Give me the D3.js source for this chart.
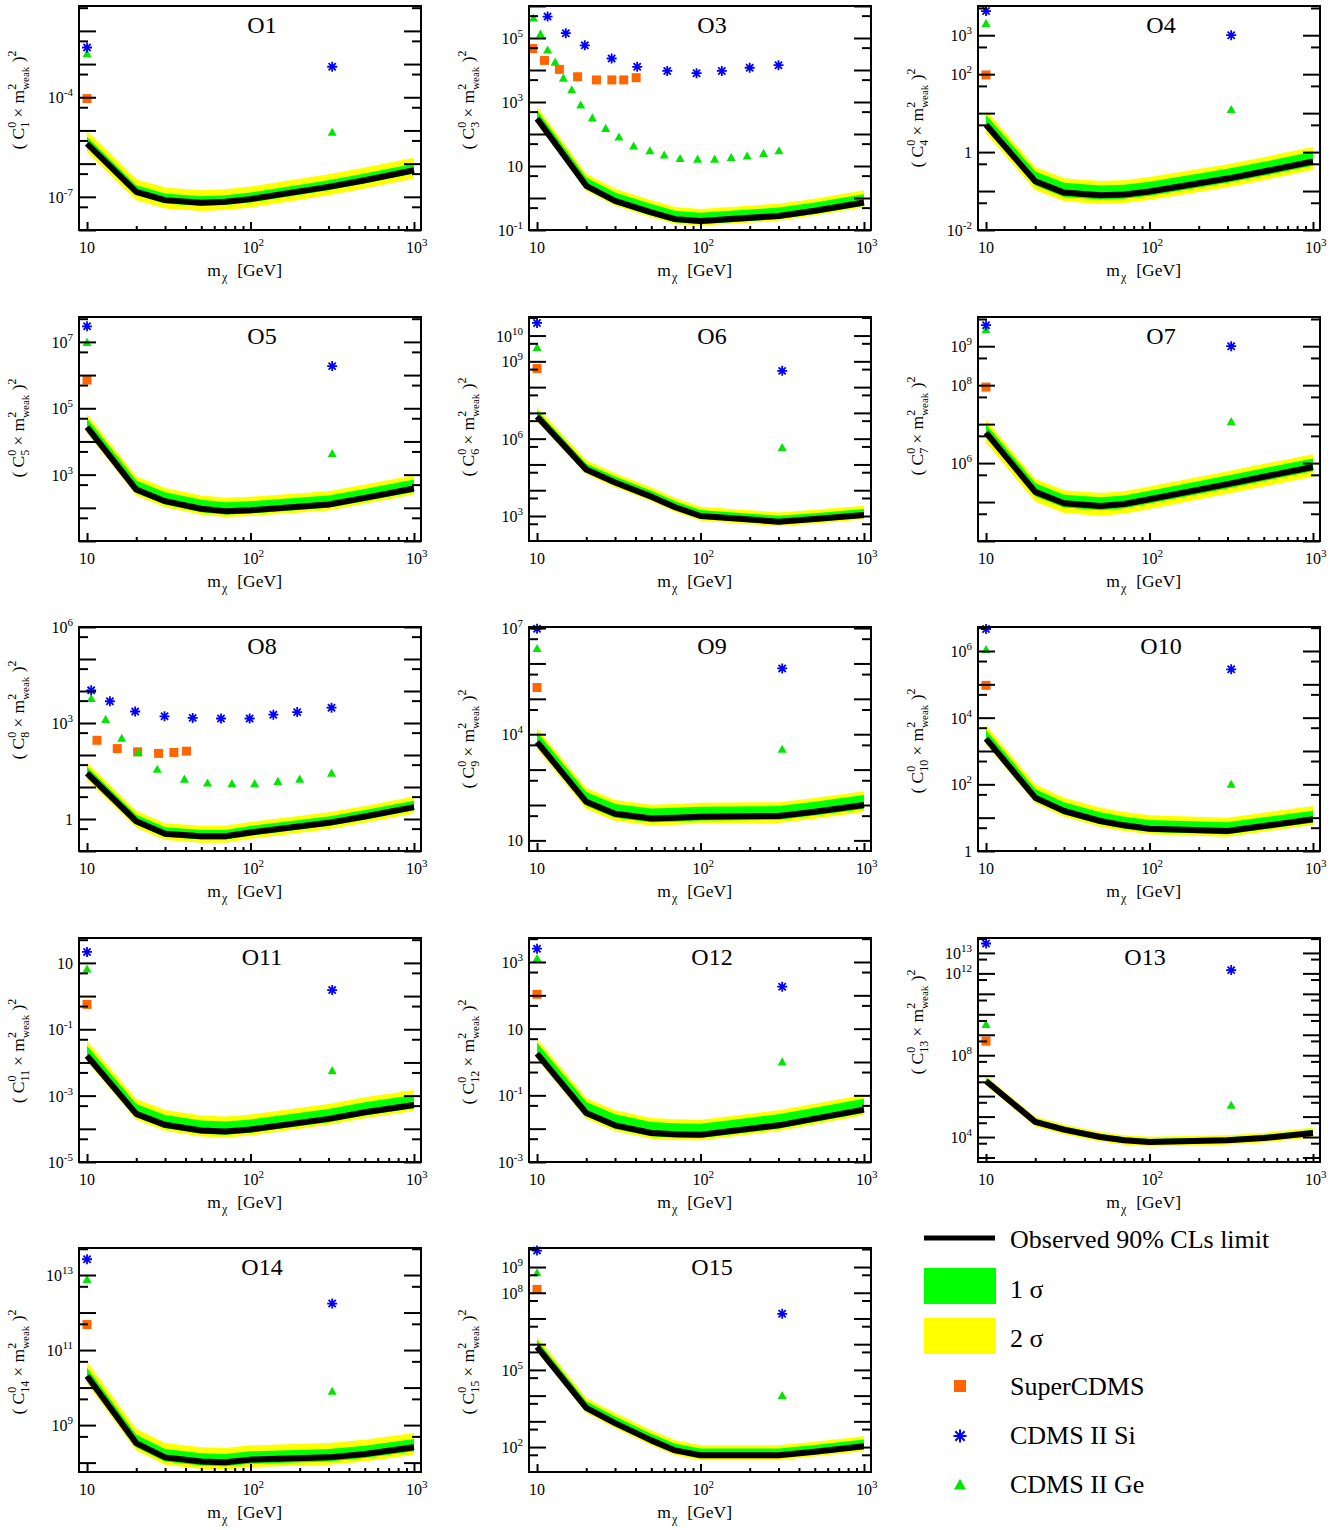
<!DOCTYPE html>
<html><head><meta charset="utf-8">
<script src="https://cdn.jsdelivr.net/npm/d3@7"></script>
<style>
body{margin:0;background:#fff}
text{font-family:"Liberation Serif","Times New Roman",serif;fill:#000}
</style>
</head><body>
<svg id="c" width="1344" height="1530" xmlns="http://www.w3.org/2000/svg"></svg>
<script>
// ---------------- DATA (values are log10 of the plotted quantity) ----------------
const panelNames = ["O1","O3","O4","O5","O6","O7","O8","O9","O10","O11","O12","O13","O14","O15"];
const coeffIndex = ["1","3","4","5","6","7","8","9","10","11","12","13","14","15"];

const mass = [10, 20, 30, 50, 70, 100, 300, 500, 1000];          // GeV
const limO1  = [-5.40, -6.85, -7.10, -7.18, -7.15, -7.07, -6.70, -6.50, -6.20];
const limO3  = [ 2.48,  0.38, -0.09, -0.45, -0.66, -0.72, -0.56, -0.40, -0.14];
const limO4  = [ 0.70, -0.75, -1.04, -1.11, -1.09, -1.01, -0.68, -0.50, -0.24];
const limO5  = [ 4.43,  2.55,  2.20,  1.97,  1.90,  1.93,  2.10,  2.30,  2.58];
const limO6  = [ 6.86,  4.80,  4.30,  3.75,  3.34,  3.00,  2.78,  2.88,  3.04];
const limO7  = [ 6.78,  5.26,  4.97,  4.90,  4.95,  5.07,  5.46,  5.65,  5.90];
const limO8  = [ 1.43, -0.07, -0.46, -0.54, -0.54, -0.42, -0.12,  0.08,  0.37];
const limO9  = [ 3.78,  2.09,  1.75,  1.62,  1.64,  1.67,  1.69,  1.81,  2.00];
const limO10 = [ 3.37,  1.60,  1.20,  0.90,  0.77,  0.67,  0.60,  0.75,  0.95];
const limO11 = [-1.80, -3.55, -3.88, -4.05, -4.08, -4.02, -3.70, -3.50, -3.28];
const limO12 = [ 0.25, -1.53, -1.90, -2.13, -2.17, -2.18, -1.90, -1.70, -1.43];
const limO13 = [ 6.74,  4.74,  4.36,  4.00,  3.84,  3.76,  3.84,  3.95,  4.20];
const limO14 = [10.31,  8.52,  8.14,  8.03,  8.01,  8.08,  8.14,  8.23,  8.41];
const limO15 = [ 5.90,  3.52,  2.93,  2.26,  1.87,  1.68,  1.68,  1.82,  2.03];

// expected-limit band half widths (decades), one per panel
const band2Up = [0.38, 0.38, 0.37, 0.40, 0.36, 0.33, 0.33, 0.39, 0.40, 0.45, 0.45, 0.25, 0.38, 0.39];
const band1Up = [0.20, 0.26, 0.25, 0.27, 0.23, 0.22, 0.20, 0.28, 0.26, 0.30, 0.33, 0.15, 0.22, 0.26];
const band1Dn = [0.10, 0.10, 0.11, 0.10, 0.10, 0.11, 0.10, 0.11, 0.10, 0.10, 0.10, 0.11, 0.11, 0.10];
const band2Dn = [0.25, 0.15, 0.22, 0.18, 0.18, 0.25, 0.20, 0.20, 0.17, 0.18, 0.17, 0.22, 0.20, 0.19];

// y-axis ranges (log10) and labelled decades
const yLo = [-8, -1, -2, 1, 2.03, 4, -1, 0.7, 0, -5, -3, 2.78, 7.75, 1.03];
const yHi = [-1.25, 6, 3.75, 7.75, 10.72, 9.75, 6, 7.03, 6.72, 1.75, 3.72, 13.73, 13.72, 9.74];
const yLabelExp = [[-4,-7],[5,3,1,-1],[3,2,0,-2],[7,5,3],[10,9,6,3],[9,8,6],[6,3,0],[7,4,1],[6,4,2,0],[1,-1,-3,-5],[3,1,-1,-3],[13,12,8,4],[13,11,9],[9,8,5,2]];
const xMajor = [10, 100, 1000];
const xMinor = [20,30,40,50,60,70,80,90,200,300,400,500,600,700,800,900];

// experiment points at 10 GeV and ~316 GeV (most operators)
const pairMass = [10, 316];
const superMass = [10];
const siO1=[-2.50,-3.08],  geO1=[-2.69,-5.06],  scO1=[-4.04];
const siO4=[3.62,3.00],    geO4=[3.30,1.09],    scO4=[1.98];
const siO5=[7.47,6.27],    geO5=[6.98,3.63],    scO5=[5.85];
const siO6=[10.49,8.63],   geO6=[9.53,5.65],    scO6=[8.72];
const siO7=[9.54,9.00],    geO7=[9.42,7.06],    scO7=[7.95];
const siO9=[6.98,5.86],    geO9=[6.42,3.57],    scO9=[5.32];
const siO10=[6.66,5.45],   geO10=[6.04,2.00],   scO10=[4.97];
const siO11=[1.33,0.18],   geO11=[0.81,-2.25],  scO11=[-0.25];
const siO12=[3.40,2.26],   geO12=[3.10,0.00],   scO12=[2.03];
const siO13=[13.46,12.16], geO13=[9.50,5.55],   scO13=[8.69];
const siO14=[13.42,12.24], geO14=[12.88,9.90],  scO14=[11.68];
const siO15=[9.64,7.18],   geO15=[8.77,4.00],   scO15=[8.13];

// O3 full mass scans
const siMassO3 = [11.6, 15, 19.6, 28.6, 41, 62.6, 94.6, 135, 200, 300];
const siO3     = [5.67, 5.15, 4.77, 4.36, 4.10, 3.97, 3.90, 3.97, 4.07, 4.15];
const geMassO3 = [9.5, 10.5, 11.6, 12.9, 14.5, 16.3, 18.5, 21.8, 26.3, 31.7, 39, 49, 60, 75, 96, 122, 154, 193, 243, 302];
const geO3     = [5.62, 5.12, 4.62, 4.24, 3.74, 3.38, 2.90, 2.50, 2.17, 1.90, 1.62, 1.47, 1.34, 1.23, 1.21, 1.21, 1.26, 1.31, 1.39, 1.47];
const scMassO3 = [9.4, 11.1, 13.7, 17.7, 23.1, 28.7, 33.9, 40.4];
const scO3     = [4.67, 4.30, 4.02, 3.79, 3.69, 3.69, 3.69, 3.76];
// O8 full mass scans
const siMassO8 = [10.6, 13.8, 19.7, 29.8, 44.3, 66, 98.8, 138, 193, 313];
const siO8     = [4.02, 3.68, 3.36, 3.21, 3.16, 3.14, 3.14, 3.26, 3.34, 3.48];
const geMassO8 = [10.6, 13, 16.3, 20.6, 26.9, 39.4, 54.6, 77, 106, 147, 200, 313];
const geO8     = [3.76, 3.11, 2.52, 2.07, 1.55, 1.24, 1.12, 1.10, 1.10, 1.17, 1.24, 1.43];
const scMassO8 = [11.5, 15.3, 20.4, 27.4, 34, 40.6];
const scO8     = [2.46, 2.20, 2.10, 2.05, 2.08, 2.12];

const legendLabels = ["Observed 90% CLs limit", "1 σ", "2 σ", "SuperCDMS", "CDMS II Si", "CDMS II Ge"];

// ---------------- TABLE built from the arrays ----------------
const lims = [limO1,limO3,limO4,limO5,limO6,limO7,limO8,limO9,limO10,limO11,limO12,limO13,limO14,limO15];
const siSets = [[pairMass,siO1],[siMassO3,siO3],[pairMass,siO4],[pairMass,siO5],[pairMass,siO6],[pairMass,siO7],[siMassO8,siO8],[pairMass,siO9],[pairMass,siO10],[pairMass,siO11],[pairMass,siO12],[pairMass,siO13],[pairMass,siO14],[pairMass,siO15]];
const geSets = [[pairMass,geO1],[geMassO3,geO3],[pairMass,geO4],[pairMass,geO5],[pairMass,geO6],[pairMass,geO7],[geMassO8,geO8],[pairMass,geO9],[pairMass,geO10],[pairMass,geO11],[pairMass,geO12],[pairMass,geO13],[pairMass,geO14],[pairMass,geO15]];
const scSets = [[superMass,scO1],[scMassO3,scO3],[superMass,scO4],[superMass,scO5],[superMass,scO6],[superMass,scO7],[scMassO8,scO8],[superMass,scO9],[superMass,scO10],[superMass,scO11],[superMass,scO12],[superMass,scO13],[superMass,scO14],[superMass,scO15]];

// ---------------- LAYOUT ----------------
const colX = [79, 529, 978];
const rowY = [6, 317, 627, 938, 1248];
const PW = 342, PH = 224;
const yTitleCenter = [94, 94, 112, 111, 110, 109, 83, 112, 114, 113, 114, 84, 114, 114];
const titleShift = [0,0,0,0,0,0,0,0,0,0,0,-16,0,0];
const C_ORANGE = "#ff6600", C_BLUE = "#0000ff", C_GE = "#00e600", C_G = "#00ff00", C_Y = "#ffff00";

const svg = d3.select("#c");
const pts = (ms, vs) => ms.map((m, i) => ({m, v: Math.pow(10, vs[i])}));

function starPath(cx, cy, r) {
  const d = r * 0.72;
  return `M${cx-r},${cy}H${cx+r}M${cx},${cy-r}V${cy+r}M${cx-d},${cy-d}L${cx+d},${cy+d}M${cx-d},${cy+d}L${cx+d},${cy-d}`;
}
function triPath(cx, cy, s) {
  const h = s * 0.9;
  return `M${cx},${cy-h*0.58}L${cx+s/2},${cy+h*0.42}L${cx-s/2},${cy+h*0.42}Z`;
}
function powLabel(sel, e) {
  if (e === 0) { sel.text("1"); return; }
  if (e === 1) { sel.text("10"); return; }
  sel.append("tspan").text("10");
  sel.append("tspan").attr("font-size", 11).attr("dy", -7).text(String(e));
}

panelNames.forEach((name, i) => {
  const left = colX[i % 3], top = rowY[Math.floor(i / 3)];
  const x = d3.scaleLog().domain([8.93, 1104]).range([left, left + PW]);
  const y = d3.scaleLog().domain([Math.pow(10, yLo[i]), Math.pow(10, yHi[i])]).range([top + PH, top]);
  const g = svg.append("g");
  const cid = "clip" + i;
  g.append("clipPath").attr("id", cid).append("rect")
    .attr("x", left).attr("y", top).attr("width", PW).attr("height", PH);
  const plot = g.append("g").attr("clip-path", `url(#${cid})`);

  const lim = lims[i];
  const rows = mass.map((m, k) => ({
    m,
    obs: Math.pow(10, lim[k]),
    lo2: Math.pow(10, lim[k] - band2Dn[i]),
    hi2: Math.pow(10, lim[k] + band2Up[i]),
    lo1: Math.pow(10, lim[k] - band1Dn[i]),
    hi1: Math.pow(10, lim[k] + band1Up[i])
  }));
  plot.append("path").datum(rows).attr("fill", C_Y)
    .attr("d", d3.area().x(d => x(d.m)).y0(d => y(d.lo2)).y1(d => y(d.hi2)));
  plot.append("path").datum(rows).attr("fill", C_G)
    .attr("d", d3.area().x(d => x(d.m)).y0(d => y(d.lo1)).y1(d => y(d.hi1)));
  plot.append("path").datum(rows).attr("fill", "none").attr("stroke", "#000")
    .attr("stroke-width", 6).attr("stroke-linejoin", "round")
    .attr("d", d3.line().x(d => x(d.m)).y(d => y(d.obs)));

  // markers
  const sc = pts(scSets[i][0], scSets[i][1]);
  const si = pts(siSets[i][0], siSets[i][1]);
  const ge = pts(geSets[i][0], geSets[i][1]);
  g.selectAll(null).data(sc).enter().append("rect")
    .attr("x", d => x(d.m) - 4.5).attr("y", d => y(d.v) - 4.5)
    .attr("width", 9).attr("height", 9).attr("fill", C_ORANGE);
  g.selectAll(null).data(ge).enter().append("path")
    .attr("d", d => triPath(x(d.m), y(d.v), 9)).attr("fill", C_GE);
  g.selectAll(null).data(si).enter().append("path")
    .attr("d", d => starPath(x(d.m), y(d.v), 5)).attr("stroke", C_BLUE)
    .attr("stroke-width", 1.8).attr("fill", "none");

  // ticks via d3 axes
  const majY = d3.range(Math.ceil(yLo[i] - 1e-9), Math.floor(yHi[i] + 1e-9) + 1).map(k => Math.pow(10, k));
  const minY = d3.range(Math.floor(yLo[i]) - 1, Math.ceil(yHi[i]) + 1)
    .map(k => k + Math.log10(5)).filter(v => v > yLo[i] && v < yHi[i]).map(v => Math.pow(10, v));
  const axG = g.append("g");
  const put = (axis, tx) => {
    const a = axG.append("g").attr("transform", tx).call(axis);
    a.select(".domain").remove();
    a.selectAll("line").attr("stroke", "#000").attr("stroke-width", 2);
    a.selectAll("text").remove();
  };
  put(d3.axisLeft(y).tickValues(majY).tickSize(-17).tickFormat(""), `translate(${left},0)`);
  put(d3.axisLeft(y).tickValues(minY).tickSize(-9).tickFormat(""), `translate(${left},0)`);
  put(d3.axisRight(y).tickValues(majY).tickSize(-17).tickFormat(""), `translate(${left + PW},0)`);
  put(d3.axisRight(y).tickValues(minY).tickSize(-9).tickFormat(""), `translate(${left + PW},0)`);
  put(d3.axisBottom(x).tickValues(xMajor).tickSize(-8).tickFormat(""), `translate(0,${top + PH})`);
  put(d3.axisBottom(x).tickValues(xMinor).tickSize(-4).tickFormat(""), `translate(0,${top + PH})`);

  // frame
  g.append("rect").attr("x", left).attr("y", top).attr("width", PW).attr("height", PH)
    .attr("fill", "none").attr("stroke", "#000").attr("stroke-width", 2);

  // y labels
  yLabelExp[i].forEach(e => {
    const t = g.append("text").attr("x", left - 6).attr("y", y(Math.pow(10, e)) + 6)
      .attr("text-anchor", "end").attr("font-size", 16);
    powLabel(t, e);
  });
  // x labels
  xMajor.forEach(v => {
    const e = Math.round(Math.log10(v));
    const t = g.append("text").attr("x", x(v) - 8).attr("y", top + PH + 23).attr("font-size", 16);
    powLabel(t, e);
  });
  // x title
  const xt = g.append("text").attr("x", left + PW - 139).attr("y", top + PH + 46)
    .attr("text-anchor", "end").attr("font-size", 17.5);
  xt.append("tspan").text("m");
  xt.append("tspan").attr("font-size", 12).attr("dy", 5).attr("dx", 1).text("χ");
  xt.append("tspan").attr("dy", -5).attr("dx", 10).text("[GeV]");

  // y title
  const yt = g.append("text").attr("text-anchor", "middle").attr("font-size", 17.5)
    .attr("transform", `translate(${left - 55},${top + yTitleCenter[i]}) rotate(-90)`);
  yt.append("tspan").text("( C");
  yt.append("tspan").attr("font-size", 12).attr("dy", -8).text("0");
  yt.append("tspan").attr("font-size", 12).attr("dx", -6).attr("dy", 13).text(coeffIndex[i]);
  yt.append("tspan").attr("dy", -5).attr("dx", 4).text("× m");
  yt.append("tspan").attr("font-size", 12).attr("dy", -8).text("2");
  yt.append("tspan").attr("font-size", 11).attr("dx", -6).attr("dy", 13).text("weak");
  yt.append("tspan").attr("dy", -5).text(" )");
  yt.append("tspan").attr("font-size", 12).attr("dy", -8).text("2");

  // panel title
  g.append("text").attr("x", left + PW / 2 + 12 + titleShift[i]).attr("y", top + 27)
    .attr("text-anchor", "middle").attr("font-size", 24).text(name);
});

// ---------------- LEGEND ----------------
const lg = svg.append("g");
const lx = 1010;
lg.append("line").attr("x1", 924).attr("x2", 995).attr("y1", 1238).attr("y2", 1238)
  .attr("stroke", "#000").attr("stroke-width", 5);
lg.append("rect").attr("x", 924).attr("y", 1268).attr("width", 72).attr("height", 36).attr("fill", C_G);
lg.append("rect").attr("x", 924).attr("y", 1318).attr("width", 72).attr("height", 36).attr("fill", C_Y);
lg.append("rect").attr("x", 954).attr("y", 1380).attr("width", 12).attr("height", 12).attr("fill", C_ORANGE);
lg.append("path").attr("d", starPath(960, 1436, 6.5)).attr("stroke", C_BLUE).attr("stroke-width", 2).attr("fill", "none");
lg.append("path").attr("d", triPath(960, 1485, 12)).attr("fill", C_GE);
const lys = [1248, 1298, 1347, 1395, 1444, 1493];
legendLabels.forEach((s, k) => {
  lg.append("text").attr("x", lx).attr("y", lys[k]).attr("font-size", 26).text(s);
});
</script>
</body></html>
